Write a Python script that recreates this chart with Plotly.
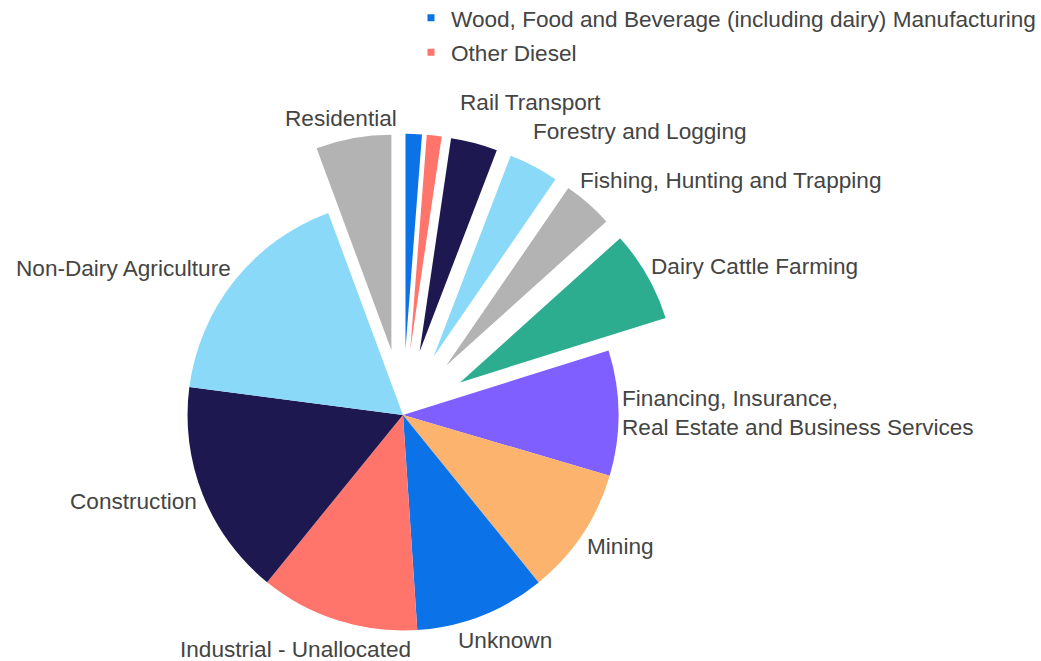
import plotly.graph_objects as go

# Share of diesel use by sector (%), clockwise from 12 o'clock
sectors = [
    "Wood, Food and Beverage (including dairy) Manufacturing",
    "Other Diesel",
    "Rail Transport",
    "Forestry and Logging",
    "Fishing, Hunting and Trapping",
    "Dairy Cattle Farming",
    "Financing, Insurance,<br>Real Estate and Business Services",
    "Mining",
    "Unknown",
    "Industrial - Unallocated",
    "Construction",
    "Non-Dairy Agriculture",
    "Residential",
]
shares = [1.22, 1.11, 3.5, 3.75, 3.75, 6.83, 9.39, 9.61, 9.78, 11.92, 16.22, 17.28, 5.64]
# the two thinnest slices are named in the legend instead of beside the pie
legend_sectors = ["Wood, Food and Beverage (including dairy) Manufacturing", "Other Diesel"]

colors = [
    "#0B72E8", "#FF756C", "#1E1850", "#8BD9F8", "#B3B3B3", "#2CAD8F",
    "#7F5FFF", "#FBB36E", "#0B72E8", "#FF756C", "#1E1850", "#8BD9F8", "#B3B3B3",
]
pulls = [0.305, 0.305, 0.305, 0.305, 0.305, 0.305, 0, 0, 0, 0, 0, 0, 0.305]

W, H = 1041, 830
FONT = "Arial, Liberation Sans, sans-serif"
FONT_SIZE = 22.6
TEXT_COLOR = "#444444"

# where each outside caption sits on the canvas: (pixel x, pixel y, horizontal anchor)
caption_place = {
    "Rail Transport": (460, 103, "left"),
    "Forestry and Logging": (533, 131, "left"),
    "Fishing, Hunting and Trapping": (580, 180, "left"),
    "Dairy Cattle Farming": (651, 266, "left"),
    "Financing, Insurance,<br>Real Estate and Business Services": (622, 413, "left"),
    "Mining": (587, 546, "left"),
    "Unknown": (505, 640, "center"),
    "Industrial - Unallocated": (295, 649, "center"),
    "Construction": (197, 501, "right"),
    "Non-Dairy Agriculture": (231, 268, "right"),
    "Residential": (397, 119, "right"),
}

fig = go.Figure()
fig.add_trace(go.Pie(
    labels=sectors,
    values=shares,
    textinfo="none",
    sort=False,
    direction="clockwise",
    rotation=0,
    pull=pulls,
    marker=dict(colors=colors, line=dict(width=0)),
    showlegend=False,
    domain=dict(x=[0.1170, 0.6572], y=[0, 1]),
))

# legend entries for the unlabelled slices
for name in legend_sectors:
    i = sectors.index(name)
    fig.add_trace(go.Scatter(
        x=[None], y=[None], mode="markers", name=name, legendgroup=name,
        marker=dict(symbol="square", size=7, color=colors[i]),
        showlegend=True, hoverinfo="skip",
    ))

annotations = []
for name in sectors:
    if name not in caption_place:
        continue
    px, py, anchor = caption_place[name]
    annotations.append(dict(
        text=name,
        x=px / W, y=1 - py / H, xref="paper", yref="paper",
        xanchor=anchor, yanchor="middle", align="left",
        showarrow=False, borderpad=0, borderwidth=0,
        font=dict(family=FONT, size=FONT_SIZE, color=TEXT_COLOR),
    ))

fig.update_layout(
    width=W,
    height=H,
    margin=dict(l=0, r=0, t=0, b=0, autoexpand=False),
    paper_bgcolor="white",
    plot_bgcolor="white",
    font=dict(family=FONT, size=FONT_SIZE, color=TEXT_COLOR),
    xaxis=dict(visible=False),
    yaxis=dict(visible=False),
    annotations=annotations,
    legend=dict(
        x=1.0, xanchor="right",
        y=1.004, yanchor="top",
        font=dict(family=FONT, size=FONT_SIZE, color=TEXT_COLOR),
        bgcolor="rgba(0,0,0,0)",
        itemwidth=30,
        tracegroupgap=2,
    ),
)

fig.write_html("out.html")
